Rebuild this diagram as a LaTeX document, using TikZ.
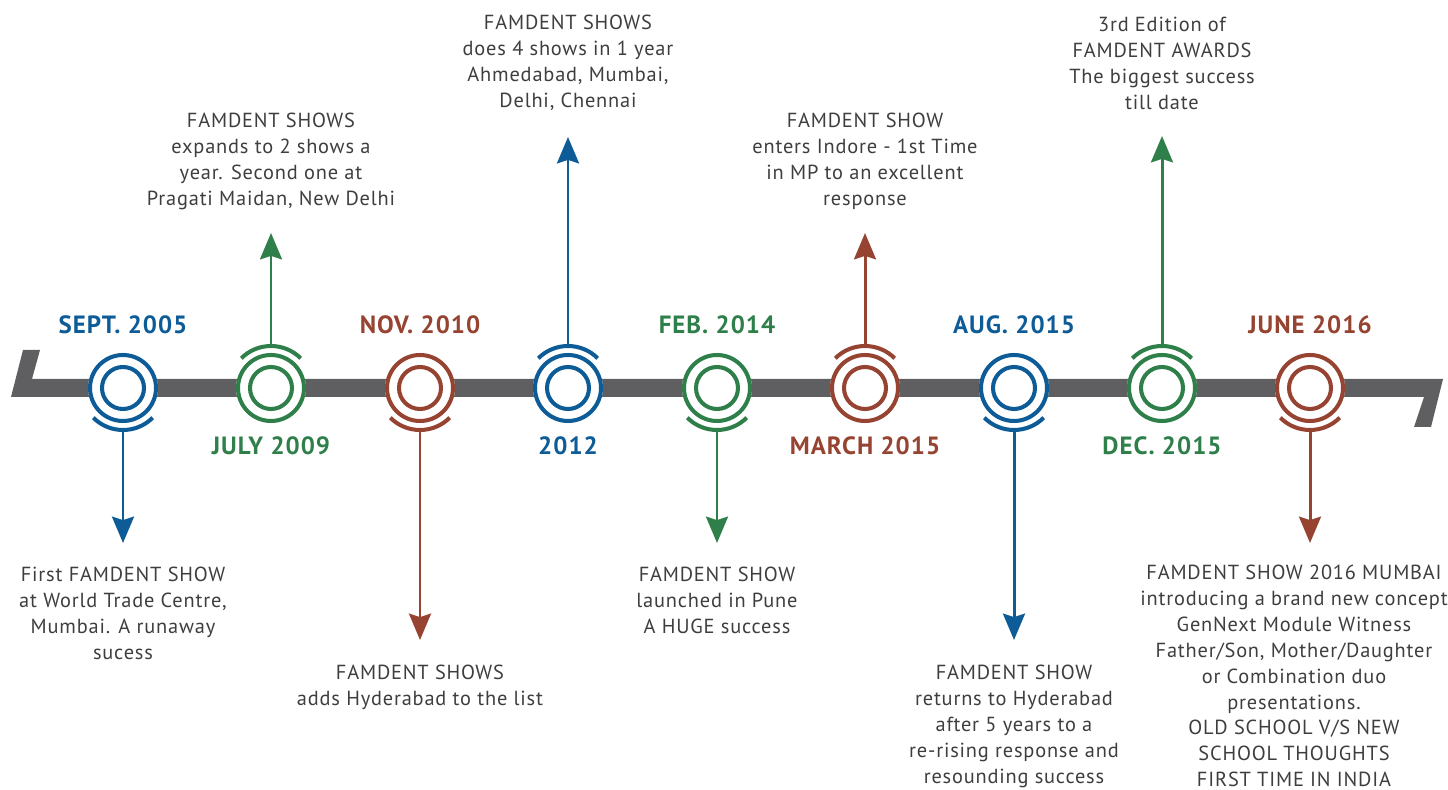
\documentclass[tikz,border=0pt]{standalone}
\usepackage{fontspec}
\setmainfont{PT Sans}[LetterSpace=4]
\usepackage{tikz}
\usetikzlibrary{arrows.meta}
\definecolor{famblue}{RGB}{14,92,151}
\definecolor{famgreen}{RGB}{47,127,74}
\definecolor{fambrown}{RGB}{150,68,49}
\definecolor{trackgray}{RGB}{95,95,98}
\definecolor{textgray}{RGB}{62,62,62}

\begin{document}
\begin{tikzpicture}[x=0.02cm, y=-0.02cm,
  every node/.style={inner sep=0pt},
  infotext/.style={text=textgray, align=center, anchor=north,
    font=\fontsize{11.6}{14.7}\selectfont},
  datetext/.style={font=\fontsize{14.2}{16}\selectfont\bfseries},
  ringline/.style={line width=2.3pt},
  stem/.style={line width=1.7pt, -{Stealth[length=15pt, width=12.5pt, inset=2pt]}}]

\useasboundingbox (0,0) rectangle (1448,790);

% the gray track, bent at both ends
\fill[trackgray] (11,397) -- (23,350) -- (40,350) -- (32,379) -- (1443,379)
  -- (1431,427) -- (1414,427) -- (1424,397) -- cycle;

% rings, half arcs, arrows and dates
 \foreach \x/\c/\n/\a/\tip/\ly/\d in
  {123/famblue/sept/45/543/325/SEPT. 2005,
   271/famgreen/july/225/233/446/JULY 2009,
   420/fambrown/nov/45/640/325/NOV. 2010,
   568/famblue/twelve/225/137/446/2012,
   717/famgreen/feb/45/543/325/FEB. 2014,
   865/fambrown/march/225/233/446/MARCH 2015,
   1014/famblue/aug/45/640/325/AUG. 2015,
   1162/famgreen/dec/225/136/446/DEC. 2015,
   1310/fambrown/june/45/543/325/JUNE 2016}
  {
  \coordinate (\n) at (\x,388);
  \fill[white] (\n) circle [radius=35];
  \draw[\c, ringline] (\n) circle [radius=33];
  \draw[\c, ringline] (\n) circle [radius=21];
  \draw[\c, ringline] (\n) ++(\a:42) arc [start angle=\a, delta angle=90, radius=42];
  \path (\n) ++({\a+45}:43) coordinate (\n-arc);
  \coordinate (\n-tip) at (\x,\tip);
  \draw[\c, stem] (\n-arc) -- (\n-tip);
  \node[datetext, text=\c] (\n-date) at (\x,\ly) {\d};
  }

\path (sept-tip) ++(0,24) node[infotext] (sept-text)
{First FAMDENT SHOW\\at World Trade Centre,\\Mumbai. A runaway\\sucess};
\path (nov-tip) ++(0,25) node[infotext] (nov-text)
{FAMDENT SHOWS\\adds Hyderabad to the list};
\path (feb-tip) ++(0,24) node[infotext] (feb-text)
{FAMDENT SHOW\\launched in Pune\\A HUGE success};
\path (aug-tip) ++(0,25) node[infotext] (aug-text)
{FAMDENT SHOW\\returns to Hyderabad\\after 5 years to a\\re-rising response and\\resounding success};
\path (june-tip) ++(-16,22) node[infotext] (june-text)
{FAMDENT SHOW 2016 MUMBAI\\introducing a brand new concept\\GenNext Module Witness\\Father/Son, Mother/Daughter\\or Combination duo\\presentations.\\OLD SCHOOL V/S NEW\\SCHOOL THOUGHTS\\FIRST TIME IN INDIA};

\path (july-tip) ++(0,-120) node[infotext] (july-text)
{FAMDENT SHOWS\\expands to 2 shows a\\year. Second one at\\Pragati Maidan, New Delhi};
\path (twelve-tip) ++(0,-122) node[infotext] (twelve-text)
{FAMDENT SHOWS\\does 4 shows in 1 year\\Ahmedabad, Mumbai,\\Delhi, Chennai};
\path (march-tip) ++(0,-120) node[infotext] (march-text)
{FAMDENT SHOW\\enters Indore - 1st Time\\in MP to an excellent\\response};
\path (dec-tip) ++(0,-119) node[infotext] (dec-text)
{3rd Edition of\\FAMDENT AWARDS\\The biggest success\\till date};

\end{tikzpicture}
\end{document}
